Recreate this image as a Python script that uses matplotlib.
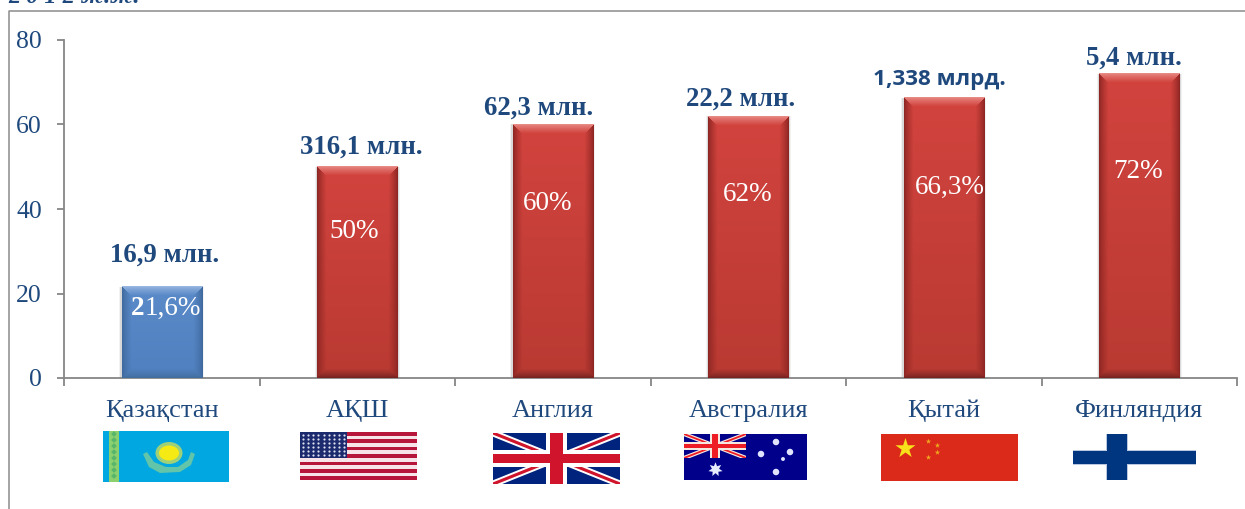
import numpy as np
import matplotlib
matplotlib.use("Agg")
import matplotlib.pyplot as plt
from matplotlib.patches import Rectangle, Polygon, Ellipse, RegularPolygon
from matplotlib.colors import to_rgb

plt.rcParams['font.family'] = ['Liberation Serif', 'DejaVu Serif']

# ---- data ----
categories = ['Қазақстан', 'АҚШ', 'Англия', 'Австралия', 'Қытай', 'Финляндия']
values = [21.6, 50, 60, 62, 66.3, 72]
pct_labels = ['21,6%', '50%', '60%', '62%', '66,3%', '72%']
population_labels = ['16,9 млн.', '316,1 млн.', '62,3 млн.', '22,2 млн.', '1,338 млрд.', '5,4 млн.']
yticks = [0, 20, 40, 60, 80]

# ---- layout (pixels) ----
W, H = 1245, 509
X0, X1, Y0, Y80 = 64, 1237, 378, 40
NAVY = '#1f497d'
GREY = '#868686'
pop_off = [(3, 32), (4, 20), (-14, 16), (-8, 17), (-4, 18), (-5, 16)]
pct_off = [(0, 22), (-3, 65), (-5, 79), (-1, 78), (6, 90), (-1, 98)]
pop_font = ['Liberation Serif'] * 4 + ['Open Sans', 'Liberation Serif']
pop_size = [19.3, 19.3, 19.3, 19.3, 16.2, 19.3]

fig = plt.figure(figsize=(W / 100, H / 100), dpi=100, facecolor='white')
ax = fig.add_axes([X0 / W, 1 - Y0 / H, (X1 - X0) / W, (Y0 - Y80) / H])
ax.set_xlim(-0.5, len(categories) - 0.5)
ax.set_ylim(0, 80)
ax.patch.set_alpha(0)
for s in ('top', 'right'):
    ax.spines[s].set_visible(False)
for s in ('left', 'bottom'):
    ax.spines[s].set_color(GREY)
    ax.spines[s].set_linewidth(1.3)
ax.set_yticks(yticks)
ax.set_xticks(np.arange(len(categories) + 1) - 0.5)
ax.set_xticklabels([])
ax.tick_params(axis='y', length=5, width=1.3, color=GREY, pad=11, labelsize=18.5, labelcolor=NAVY)
ax.tick_params(axis='x', length=5.5, width=1.3, color=GREY)

xpx = (X1 - X0) / len(categories)
ypx = (Y0 - Y80) / 80
bar_w = 0.41


def mix(a, b, t):
    return np.array(to_rgb(a)) * (1 - t) + np.array(to_rgb(b)) * t


def bevel_bar(x, v, top_col, low_col, edge_col, light, dark):
    ax.bar(x, v, bar_w + 5 / xpx, color='#000000', alpha=0.05, zorder=2)
    ax.bar(x, v, bar_w + 2.5 / xpx, color='#000000', alpha=0.10, zorder=2)
    ax.bar(x, v, bar_w, color=top_col, zorder=3)
    nx, ny = 80, max(int(round(v * ypx)), 2)
    bev = 9.0
    img = np.zeros((ny, nx, 3))
    for j in range(ny):
        base = mix(top_col, low_col, j / (ny - 1))
        for i in range(nx):
            dl, dr, dt, db = i, nx - 1 - i, j, ny - 1 - j
            m = min(dl, dr, dt, db)
            if m >= bev:
                img[j, i] = base
                continue
            t = (m / bev) ** 0.8
            if m == dt:
                img[j, i] = mix(light, base, t)
            elif m == db:
                img[j, i] = mix(dark, base, t)
            else:
                img[j, i] = mix(edge_col, base, t)
    ax.imshow(img, extent=(x - bar_w / 2, x + bar_w / 2, 0, v), aspect='auto',
              zorder=3.5, interpolation='bilinear')


for i, v in enumerate(values):
    if i == 0:
        bevel_bar(i, v, '#5a8ac8', '#5080bf', '#3f6a9f', '#97b6e0', '#426e9f')
    else:
        bevel_bar(i, v, '#d2433e', '#b93a32', '#8e2623', '#e88a85', '#772320')

ax.set_xlim(-0.5, len(categories) - 0.5)
ax.set_ylim(0, 80)

px = 72 / 100
for i, v in enumerate(values):
    dx, dy = pop_off[i]
    ax.annotate(population_labels[i], (i, v), xytext=(dx * px, dy * px), textcoords='offset points',
                ha='center', va='center', color=NAVY, fontweight='bold',
                fontsize=pop_size[i], family=pop_font[i], zorder=6)
    dx, dy = pct_off[i]
    if i == 0:
        ax.annotate('2', (i, v), xytext=(-17 * px, -dy * px), textcoords='offset points',
                    ha='right', va='center', color='white', fontsize=19.5, fontweight='bold', zorder=6)
        ax.annotate(pct_labels[i][1:], (i, v), xytext=(-17 * px, -dy * px), textcoords='offset points',
                    ha='left', va='center', color='white', fontsize=19.5, zorder=6)
    else:
        ax.annotate(pct_labels[i], (i, v), xytext=(dx * px, -dy * px), textcoords='offset points',
                    ha='center', va='center', color='white', fontsize=19.5, zorder=6)
    ax.annotate(categories[i], (i, 0), xytext=(0, -39 * px), textcoords='offset points',
                ha='center', va='baseline', color=NAVY, fontsize=19, zorder=6, annotation_clip=False)

# ---- pixel overlay: frame, heading fragment, flags ----
ov = fig.add_axes([0, 0, 1, 1])
ov.set_xlim(0, W)
ov.set_ylim(H, 0)
ov.axis('off')
ov.patch.set_alpha(0)
ov.plot([8.5, 8.5, W], [H, 11, 11], color='#8c8c8c', lw=1.1)
ov.text(8, 3, '2 0 1 2 ж.ж.', fontsize=17.5, fontweight='bold', style='italic', color=NAVY,
        ha='left', va='baseline')


def R(x, y, w, h, c):
    p = Rectangle((x, y), w, h, facecolor=c, edgecolor='none', zorder=2)
    ov.add_patch(p)
    return p


# Kazakhstan
R(103, 431, 126, 51, '#00a7e1')
R(109, 431, 10, 51, '#8ccf6e')
for yy in range(434, 482, 6):
    ov.add_patch(RegularPolygon((114, yy), 4, radius=2.8, facecolor='#55b66c', edgecolor='none', zorder=2))
ov.add_patch(Polygon([(143, 454), (147, 452), (154, 462), (166, 467), (178, 467), (188, 460), (191, 452),
                      (195, 454), (191, 465), (180, 472), (160, 473), (149, 467)],
                     facecolor='#62c4a8', edgecolor='none', zorder=2))
ov.add_patch(Ellipse((169, 453), 27, 22, facecolor='#9ed07a', edgecolor='none', zorder=2))
ov.add_patch(Ellipse((169, 453), 20, 15, facecolor='#f5ea14', edgecolor='none', zorder=2))

# USA
x0, y0, w, h = 300, 432, 117, 48
for k in range(13):
    R(x0, y0 + k * h / 13, w, h / 13 + 0.3, '#b5163a' if k % 2 == 0 else '#f6e4e8')
R(x0, y0, 47, 26, '#1c2a6e')
sx = np.linspace(x0 + 3, x0 + 44, 9)
sy = np.linspace(y0 + 3, y0 + 23, 6)
xx, yy = np.meshgrid(sx, sy)
ov.scatter(xx.ravel(), yy.ravel(), s=2.5, c='#dfe3f2', linewidths=0, zorder=2)


# Union flag helper
def union(x, y, w, h, navy, red, white, sc=1.0):
    clip = R(x, y, w, h, navy)
    lines = [ov.plot([x, x + w], [y, y + h], color=white, lw=5 * sc, solid_capstyle='butt', zorder=2)[0],
             ov.plot([x, x + w], [y + h, y], color=white, lw=5 * sc, solid_capstyle='butt', zorder=2)[0],
             ov.plot([x, x + w], [y, y + h], color=red, lw=2.2 * sc, solid_capstyle='butt', zorder=2)[0],
             ov.plot([x, x + w], [y + h, y], color=red, lw=2.2 * sc, solid_capstyle='butt', zorder=2)[0]]
    for l in lines:
        l.set_clip_path(clip)
    vw, hw = 0.165 * w, 0.34 * h
    R(x + w / 2 - vw / 2, y, vw, h, white)
    R(x, y + h / 2 - hw / 2, w, hw, white)
    R(x + w / 2 - vw * 0.31, y, vw * 0.62, h, red)
    R(x, y + h / 2 - hw * 0.27, w, hw * 0.54, red)


union(493, 433, 127, 51, '#00247d', '#cf142b', '#ffffff')

# Australia
R(684, 434, 123, 46, '#00008b')
union(684, 434, 62, 24, '#00008b', '#ee1c25', '#f5e8e0', sc=0.6)
star_xy = [(776, 442), (761, 454), (790, 452), (776, 472), (783, 459)]
star_s = [22, 22, 22, 22, 8]
ov.scatter(*zip(*star_xy), s=star_s, c='#e0e4ff', marker='o', linewidths=0, zorder=3)
ov.scatter(715, 469, s=110, c='#e8ecff', marker=(7, 1, 0), linewidths=0, zorder=3)

# China
R(881, 434, 137, 47, '#dc2a1a')
ov.scatter(905, 447.5, s=230, c='#f7e11a', marker='*', linewidths=0, zorder=3)
ov.scatter([928, 937, 937, 928], [441, 445, 452, 457], s=16, c='#f0a81e', marker='*', linewidths=0, zorder=3)

# Finland
R(1073, 434, 123, 46, '#ffffff')
R(1106, 434, 22, 46, '#b9c8de')
R(1073, 450, 123, 15, '#b9c8de')
R(1107, 434, 20, 46, '#003580')
R(1073, 451, 123, 13, '#003580')

fig.savefig('out.png', dpi=100, facecolor='white')
